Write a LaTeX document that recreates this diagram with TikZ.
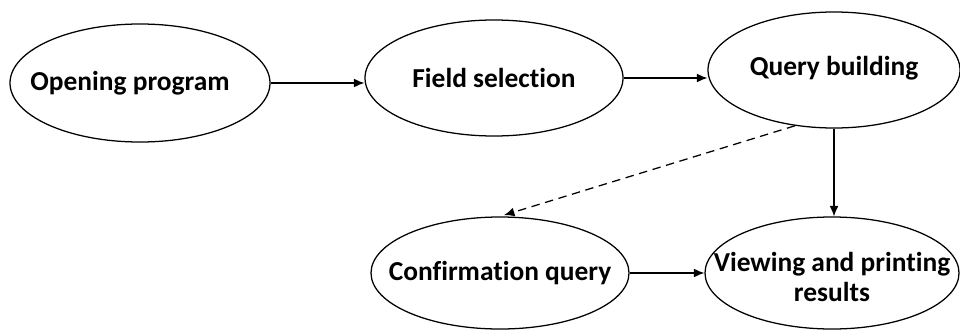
\documentclass[tikz,border=0pt]{standalone}
\usepackage{fontspec}
\setmainfont{Carlito}[Ligatures=NoCommon]
\usepackage{tikz}
\usetikzlibrary{shapes.geometric, arrows.meta}

\tikzset{
    proc/.style={draw, ellipse, line width=0.9pt, inner sep=0pt},
    txt/.style={font=\fontsize{19.5}{21}\selectfont\bfseries, align=center, inner sep=0pt},
    flow/.style={line width=0.9pt, -{Latex[length=2.6mm,width=2.2mm]}}
}

\begin{document}
\begin{tikzpicture}
            \useasboundingbox (0,0) rectangle (24,-8.225);
            \node[proc, minimum width=6.5cm, minimum height=2.95cm] at (3.5,-2.075) (open) {};
            \node[txt] at ([xshift=-0.25cm]open) (opentxt) {Opening program};
            \node[proc, minimum width=6.45cm, minimum height=2.9cm] at (12.35,-1.95) (field) {};
            \node[txt] at (field) (fieldtxt) {Field selection};
            \node[proc, minimum width=6.3cm, minimum height=2.9cm] at (20.85,-1.75) (query) {};
            \node[txt] at ([yshift=1pt]query) (querytxt) {Query building};
            \node[proc, minimum width=6.45cm, minimum height=2.8cm] at (12.5,-6.825) (confirm) {};
            \node[txt] at (confirm) (confirmtxt) {Confirmation query};
            \node[proc, minimum width=6.35cm, minimum height=2.8cm] at (20.8,-6.825) (view) {};
            \node[txt] at ([yshift=-3pt]view) (viewtxt) {Viewing and printing\\results};
            \draw[flow] (open.east) -- (open.east -| field.west);
            \draw[flow] (field.east) -- (field.east -| query.west);
            \draw[flow] (query.south) -- (query.south |- view.north);
            \draw[flow, dash pattern=on 6pt off 4pt, shorten >=3pt] (query.235) -- (confirm.north);
            \draw[flow] (confirm.east) -- (confirm.east -| view.west);
        \end{tikzpicture}
\end{document}
